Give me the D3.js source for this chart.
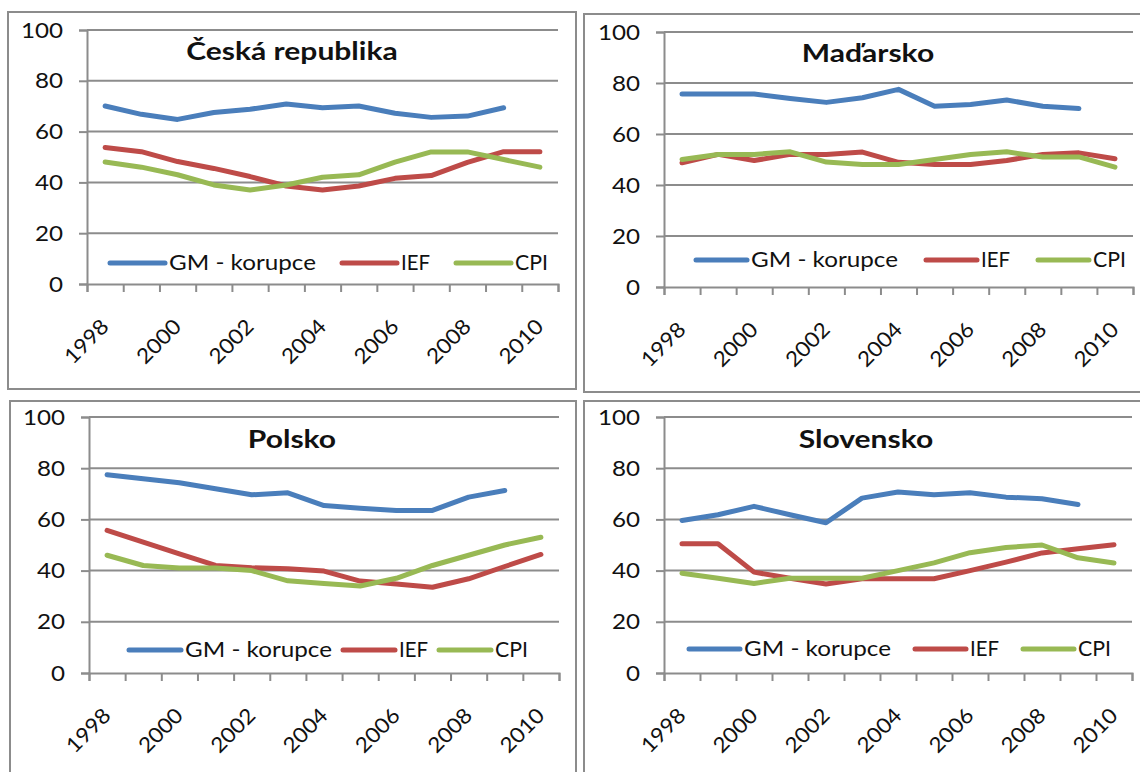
<!DOCTYPE html>
<html>
<head>
<meta charset="utf-8">
<script src="https://cdn.jsdelivr.net/npm/d3@7"></script>
<style>
  body { margin: 0; background: #fff; }
  svg text { font-family: Lato, "Open Sans", sans-serif; fill: #111; }
</style>
</head>
<body>
<svg id="chart" width="1140" height="772"></svg>
<script>
// data
var years = [1998, 1999, 2000, 2001, 2002, 2003, 2004, 2005, 2006, 2007, 2008, 2009, 2010];
var yTicks = [0, 20, 40, 60, 80, 100];
var seriesNames = ["GM - korupce", "IEF", "CPI"];
var seriesColors = ["#4a7ebb", "#be4b48", "#98b954"];

// Česká republika
var czGM  = [70.1, 66.8, 64.8, 67.5, 68.8, 70.9, 69.4, 70.1, 67.2, 65.6, 66.1, 69.4];
var czIEF = [53.7, 52.1, 48.2, 45.5, 42.3, 38.6, 37.0, 38.6, 41.6, 42.7, 47.9, 52.1, 52.1];
var czCPI = [48, 46, 43, 39, 37, 39, 42, 43, 48, 52, 52, 49, 46];
// Maďarsko
var huGM  = [75.7, 75.7, 75.7, 73.9, 72.4, 74.2, 77.5, 70.9, 71.6, 73.3, 70.9, 70.0];
var huIEF = [48.7, 52.0, 49.6, 52.0, 52.0, 52.9, 48.9, 48.0, 48.0, 49.6, 52.0, 52.6, 50.3];
var huCPI = [50, 52, 52, 53, 49, 48, 48, 50, 52, 53, 51, 51, 47];
// Polsko
var plGM  = [77.4, 75.9, 74.3, 72.0, 69.6, 70.4, 65.4, 64.4, 63.5, 63.5, 68.7, 71.3];
var plIEF = [55.7, 51.1, 46.5, 42.0, 41.1, 40.7, 39.8, 35.9, 34.8, 33.5, 36.8, 41.6, 46.3];
var plCPI = [46, 42, 41, 41, 40, 36, 35, 34, 37, 42, 46, 50, 53];
// Slovensko
var skGM  = [59.6, 61.8, 65.1, 61.8, 58.7, 68.3, 70.7, 69.6, 70.4, 68.7, 68.1, 65.8];
var skIEF = [50.5, 50.5, 39.4, 37.0, 34.8, 36.8, 36.8, 36.8, 40.0, 43.3, 46.9, 48.5, 50.1];
var skCPI = [39, 37, 35, 37, 37, 37, 40, 43, 47, 49, 50, 45, 43];

var panels = [
  { title: "Česká republika", series: [czGM, czIEF, czCPI],
    box: [8, 12, 568, 377], plot: [87, 30, 558, 284], titleX: 292, titleY: 60,
    legendX: 110, legendY: 263, legendLine: 55, legendGap: 26 },
  { title: "Maďarsko", series: [huGM, huIEF, huCPI],
    box: [584, 14, 600, 378], plot: [664, 32, 1133, 287], titleX: 868, titleY: 62,
    legendX: 696, legendY: 260, legendLine: 51, legendGap: 28 },
  { title: "Polsko", series: [plGM, plIEF, plCPI],
    box: [10, 401, 566, 400], plot: [89, 417, 559, 673], titleX: 292, titleY: 448,
    legendX: 129, legendY: 650, legendLine: 52, legendGap: 11 },
  { title: "Slovensko", series: [skGM, skIEF, skCPI],
    box: [584, 401, 600, 400], plot: [664, 417, 1132, 673], titleX: 866, titleY: 448,
    legendX: 689, legendY: 649, legendLine: 51, legendGap: 24 }
];

// width of each legend label in the picture (Calibri-like lettering)
var legendTextWidth = [147, 29, 33];

var svg = d3.select("#chart");
var gray = "#8c8c8c";

// the picture's lettering is a bit wider than Lato, so widen it
function widen(sel, f) {
  sel.each(function() {
    var w = this.getComputedTextLength();
    d3.select(this).attr("textLength", w * f).attr("lengthAdjust", "spacingAndGlyphs");
  });
}

panels.forEach(function(p) {
  var g = svg.append("g");

  // panel frame
  g.append("rect")
    .attr("x", p.box[0]).attr("y", p.box[1])
    .attr("width", p.box[2]).attr("height", p.box[3])
    .attr("fill", "none").attr("stroke", gray).attr("stroke-width", 2);

  var x = d3.scaleBand().domain(years).range([p.plot[0], p.plot[2]]);
  var xEdge = d3.scaleLinear().domain([0, years.length]).range([p.plot[0], p.plot[2]]);
  var y = d3.scaleLinear().domain([0, 100]).range([p.plot[3], p.plot[1]]);

  // gridlines
  g.selectAll(".grid").data(yTicks.slice(1)).enter().append("line")
    .attr("x1", p.plot[0]).attr("x2", p.plot[2])
    .attr("y1", function(d) { return y(d); }).attr("y2", function(d) { return y(d); })
    .attr("stroke", gray).attr("stroke-width", 2);

  // y axis
  var ya = g.append("g")
    .attr("transform", "translate(" + p.plot[0] + ",0)")
    .call(d3.axisLeft(y).tickValues(yTicks).tickSize(8).tickPadding(16));
  ya.select(".domain").attr("stroke", gray).attr("stroke-width", 2);
  ya.selectAll(".tick line").attr("stroke", gray).attr("stroke-width", 2);
  ya.selectAll(".tick text").attr("font-size", 22).attr("fill", "#111")
    .style("font-family", "Lato, 'Open Sans', sans-serif");
  widen(ya.selectAll(".tick text"), 1.1);

  // x axis, ticks between categories
  var xa = g.append("g")
    .attr("transform", "translate(0," + p.plot[3] + ")")
    .call(d3.axisBottom(xEdge).tickValues(d3.range(years.length + 1)).tickSize(8).tickFormat(""));
  xa.select(".domain").attr("stroke", gray).attr("stroke-width", 2);
  xa.selectAll(".tick line").attr("stroke", gray).attr("stroke-width", 2);

  // rotated year labels, every other year
  var yl = g.selectAll(".yl").data(years.filter(function(d, i) { return i % 2 === 0; })).enter().append("text")
    .attr("text-anchor", "end")
    .attr("font-size", 21)
    .attr("transform", function(d) {
      return "translate(" + (x(d) + x.bandwidth() / 2 + 5) + "," + (p.plot[3] + 44) + ") rotate(-45)";
    })
    .text(function(d) { return d; });
  widen(yl, 1.08);

  // series lines
  var line = d3.line()
    .x(function(d, i) { return x(years[i]) + x.bandwidth() / 2; })
    .y(function(d) { return y(d); });

  p.series.forEach(function(s, k) {
    g.append("path")
      .datum(s)
      .attr("d", line)
      .attr("fill", "none")
      .attr("stroke", seriesColors[k])
      .attr("stroke-width", 5)
      .attr("stroke-linejoin", "round")
      .attr("stroke-linecap", "round");
  });

  // title
  var tt = g.append("text")
    .attr("x", p.titleX).attr("y", p.titleY)
    .attr("text-anchor", "middle")
    .attr("font-size", 25).attr("font-weight", "bold")
    .text(p.title);
  widen(tt, 1.2);

  // legend
  var lx = p.legendX;
  seriesNames.forEach(function(name, k) {
    g.append("line")
      .attr("x1", lx).attr("x2", lx + p.legendLine)
      .attr("y1", p.legendY).attr("y2", p.legendY)
      .attr("stroke", seriesColors[k]).attr("stroke-width", 5)
      .attr("stroke-linecap", "round");
    g.append("text")
      .attr("x", lx + p.legendLine + 4).attr("y", p.legendY + 7)
      .attr("font-size", 21)
      .attr("textLength", legendTextWidth[k]).attr("lengthAdjust", "spacingAndGlyphs")
      .text(name);
    lx = lx + p.legendLine + 4 + legendTextWidth[k] + p.legendGap;
  });
});
</script>
</body>
</html>
